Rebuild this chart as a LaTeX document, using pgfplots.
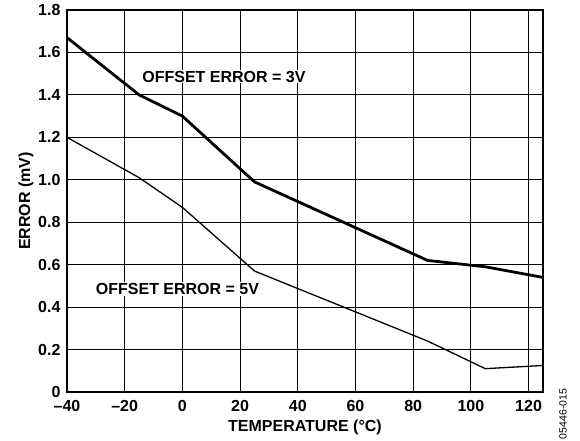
\documentclass[border=0pt]{standalone}
\usepackage{pgfplots}
\pgfplotsset{compat=1.18}
\usepackage{fontspec}
\setmainfont{Liberation Sans}
\begin{document}
\begin{tikzpicture}[font=\fontsize{16}{19}\selectfont\bfseries]
\path[use as bounding box] (-67pt,-48pt) rectangle (513pt,392pt);
\begin{axis}[
  at={(0pt,0pt)}, anchor=south west,
  scale only axis, width=476pt, height=382pt,
  xmin=-40, xmax=125, ymin=0, ymax=1.8,
  xtick={-40,-20,0,20,40,60,80,100,120},
  xticklabels={--40,--20,0,20,40,60,80,100,120},
  ytick={0,0.2,0.4,0.6,0.8,1.0,1.2,1.4,1.6,1.8},
  yticklabels={0,0.2,0.4,0.6,0.8,1.0,1.2,1.4,1.6,1.8},
  grid=major,
  grid style={black, line width=0.9pt},
  axis line style={black, line width=1.3pt},
  major tick length=0pt,
  tick label style={font=\fontsize{16}{19}\selectfont\bfseries},
  xticklabel style={yshift=-5pt},
  yticklabel style={xshift=-3pt},
  xlabel={TEMPERATURE (°C)},
  ylabel={ERROR (mV)},
  xlabel style={font=\fontsize{16}{19}\selectfont\bfseries, yshift=-1pt},
  ylabel style={font=\fontsize{16}{19}\selectfont\bfseries, yshift=-2pt},
  clip=false,
]
\addplot[black, line width=2.8pt, line join=round] coordinates {
  (-40,1.67) (-15,1.40) (0,1.30) (25,0.99) (85,0.62) (105,0.59) (125,0.54)
};
\addplot[black, line width=1.3pt, line join=round] coordinates {
  (-40,1.20) (-15,1.01) (0,0.87) (25,0.57) (85,0.24) (105,0.11) (125,0.125)
};
\node[fill=white, inner sep=1pt] at (axis cs:14.4,1.486) {OFFSET ERROR = 3V};
\node[fill=white, inner sep=1pt] at (axis cs:-1.7,0.486) {OFFSET ERROR = 5V};
\end{axis}
\node[rotate=90, font=\fontsize{10.5}{12}\selectfont\mdseries, anchor=center] at (496pt,-22pt) {05446-015};
\end{tikzpicture}
\end{document}
